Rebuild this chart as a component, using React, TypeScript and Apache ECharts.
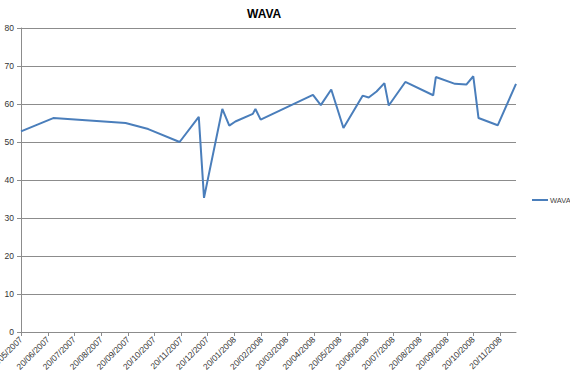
import React, { useEffect, useRef } from "react";
import * as echarts from "echarts";

const seriesName = "WAVA";
const dates: string[] = [
  "20/05/2007", "26/06/2007", "17/09/2007", "13/10/2007", "18/11/2007",
  "10/12/2007", "16/12/2007", "06/01/2008", "14/01/2008", "21/01/2008",
  "10/02/2008", "13/02/2008", "19/02/2008", "19/04/2008", "28/04/2008",
  "10/05/2008", "24/05/2008", "15/06/2008", "22/06/2008", "01/07/2008",
  "10/07/2008", "15/07/2008", "03/08/2008", "04/09/2008", "07/09/2008",
  "29/09/2008", "12/10/2008", "20/10/2008", "26/10/2008", "17/11/2008",
  "08/12/2008",
];
const values: number[] = [
  52.8, 56.3, 55.0, 53.4, 50.0,
  56.6, 35.3, 58.7, 54.3, 55.4,
  57.4, 58.7, 55.9, 62.4, 59.7,
  63.8, 53.7, 62.2, 61.7, 63.3,
  65.5, 59.6, 65.8, 62.3, 67.1,
  65.3, 65.1, 67.3, 56.3, 54.4,
  65.3,
];
const tickLabels: string[] = [
  "20/05/2007", "20/06/2007", "20/07/2007", "20/08/2007", "20/09/2007",
  "20/10/2007", "20/11/2007", "20/12/2007", "20/01/2008", "20/02/2008",
  "20/03/2008", "20/04/2008", "20/05/2008", "20/06/2008", "20/07/2008",
  "20/08/2008", "20/09/2008", "20/10/2008", "20/11/2008",
];
const xMin = "20/05/2007";
const xMax = "08/12/2008";
const yMin = 0;
const yMax = 80;
const yInterval = 10;

function toTs(s: string): number {
  const [d, m, y] = s.split("/").map(Number);
  return Date.UTC(y, m - 1, d);
}
function fmt(v: number): string {
  const dt = new Date(v);
  const dd = String(dt.getUTCDate()).padStart(2, "0");
  const mm = String(dt.getUTCMonth() + 1).padStart(2, "0");
  return `${dd}/${mm}/${dt.getUTCFullYear()}`;
}

export default function App() {
  const ref = useRef<HTMLDivElement>(null);
  useEffect(() => {
    if (!ref.current) return;
    const chart = echarts.init(ref.current, undefined, { renderer: "svg" });
    const tickTs = tickLabels.map(toTs);
    const font = "Liberation Sans, Arial, sans-serif";
    chart.setOption({
      animation: false,
      backgroundColor: "#ffffff",
      title: {
        text: "WAVA",
        left: 242,
        top: 3,
        textStyle: { fontSize: 12, fontWeight: "bold", color: "#000", fontFamily: font },
      },
      legend: {
        data: [{ name: seriesName, icon: "rect" }],
        left: 532,
        top: 196,
        padding: 0,
        itemWidth: 16,
        itemHeight: 2,
        itemGap: 2,
        textStyle: { fontSize: 7.5, color: "#444", fontFamily: font, padding: [0, 0, 0, -3] },
      },
      grid: { left: 21, right: 54, top: 28, bottom: 45, containLabel: false, outerBoundsMode: "none" },
      xAxis: {
        type: "value",
        min: toTs(xMin),
        max: toTs(xMax),
        splitLine: { show: false },
        axisLine: { show: true, onZero: false, lineStyle: { color: "#8c8c8c", width: 1 } },
        axisTick: {
          show: true,
          customValues: tickTs,
          length: 4,
          lineStyle: { color: "#8c8c8c" },
        },
        axisLabel: {
          customValues: tickTs,
          formatter: (v: number) => fmt(v),
          rotate: 45,
          fontSize: 8.5,
          color: "#333",
          fontFamily: font,
          margin: 6,
          hideOverlap: false,
        },
      },
      yAxis: {
        type: "value",
        min: yMin,
        max: yMax,
        interval: yInterval,
        axisLine: { show: true, lineStyle: { color: "#8c8c8c", width: 1 } },
        axisTick: { show: true, length: 4, lineStyle: { color: "#8c8c8c" } },
        splitLine: { show: true, lineStyle: { color: "#8c8c8c", width: 1 } },
        axisLabel: { fontSize: 8.5, color: "#333", fontFamily: font, margin: 7 },
      },
      series: [
        {
          name: seriesName,
          type: "line",
          data: dates.map((d, i) => [toTs(d), values[i]]),
          showSymbol: false,
          symbol: "none",
          lineStyle: { color: "#4a7ebb", width: 2 },
          itemStyle: { color: "#4a7ebb" },
        },
      ],
    });
    return () => chart.dispose();
  }, []);
  return <div ref={ref} style={{ width: 570, height: 377, position: "absolute", left: 0, top: 0 }} />;
}
